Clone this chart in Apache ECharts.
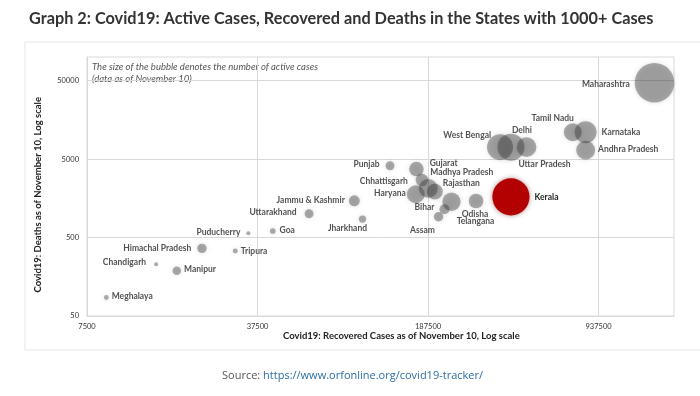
<!DOCTYPE html>
<html>
<head>
<meta charset="utf-8">
<script src="https://cdn.jsdelivr.net/npm/echarts@6/dist/echarts.min.js"></script>
<style>
  html, body { margin: 0; padding: 0; background: #fff; }
  #main { width: 700px; height: 396px; }
</style>
</head>
<body>
<div id="main"></div>
<script>
const states = ['Maharashtra', 'Karnataka', 'Andhra Pradesh', 'Tamil Nadu', 'Kerala', 'West Bengal', 'Delhi',
  'Uttar Pradesh', 'Odisha', 'Telangana', 'Rajasthan', 'Chhattisgarh', 'Haryana', 'Gujarat', 'Madhya Pradesh',
  'Bihar', 'Assam', 'Punjab', 'Jharkhand', 'Jammu & Kashmir', 'Uttarakhand', 'Goa', 'Puducherry', 'Tripura',
  'Himachal Pradesh', 'Manipur', 'Chandigarh', 'Meghalaya']
const recovered = [1590000, 830000, 830000, 735000, 410000, 370000, 410000,
  475000, 295000, 234000, 200000, 188000, 167000, 168000, 177000,
  219000, 207000, 131000, 101000, 93500, 61000, 43300, 34400, 30400,
  22200, 17500, 14400, 9000]
const deaths = [47000, 11000, 6500, 11000, 1650, 7100, 7100,
  7100, 1460, 1430, 1920, 2120, 1780, 3730, 2700,
  1150, 920, 4110, 860, 1470, 1005, 605, 566, 337,
  364, 189, 228, 86]
const active = [88000, 27000, 20000, 18000, 78000, 38000, 41000,
  22000, 12000, 19000, 14000, 20000, 18000, 12000, 9000,
  5600, 5000, 4500, 3000, 6800, 4500, 1800, 900, 1400,
  5000, 4100, 900, 1300]
const xTicks = [7500, 37500, 187500, 937500]
const yTicks = [50, 500, 5000, 50000]

// where each state's name sits next to its bubble: [position, dx, dy]
const labelPlace = {
  'Maharashtra': ['left', 0, 2],
  'Karnataka': ['right', 0, 0],
  'Andhra Pradesh': ['right', -2, -1],
  'Tamil Nadu': ['top', -20, 4],
  'Kerala': ['right', 0, 0],
  'West Bengal': ['left', 9, -12],
  'Delhi': ['top', 11, 6],
  'Uttar Pradesh': ['bottom', 18, -2],
  'Odisha': ['bottom', -1, -4],
  'Telangana': ['bottom', 24, 1],
  'Rajasthan': ['right', -5, -8],
  'Chhattisgarh': ['left', -6, -7],
  'Haryana': ['left', 4, -1],
  'Gujarat': ['right', 1, -6],
  'Madhya Pradesh': ['right', -3, -8],
  'Bihar': ['left', 0, -2],
  'Assam': ['bottom', -16, -1],
  'Punjab': ['left', -1, -1],
  'Jharkhand': ['bottom', -15, -4],
  'Jammu & Kashmir': ['left', 1, -1],
  'Uttarakhand': ['left', -3, -1],
  'Goa': ['right', -1, -1],
  'Puducherry': ['left', -1, -1],
  'Tripura': ['right', -2, 0],
  'Himachal Pradesh': ['left', -1, 0],
  'Manipur': ['right', -2, -1],
  'Chandigarh': ['left', -3, -2],
  'Meghalaya': ['right', -2, -1]
}

const points = states.map((name, i) => {
  const p = labelPlace[name]
  const item = {
    name: name,
    value: [recovered[i], deaths[i], active[i]],
    label: { position: p[0], offset: [p[1], p[2]] }
  }
  if (name === 'Kerala') {
    item.itemStyle = { color: '#b30000', opacity: 1, shadowColor: 'rgba(90,0,0,0.45)', shadowBlur: 5 }
  }
  return item
})

const chart = echarts.init(document.getElementById('main'))
const option = {
  animation: false,
  textStyle: { fontFamily: 'Lato' },
  title: {
    text: 'Graph 2: Covid19: Active Cases, Recovered and Deaths in the States with 1000+ Cases',
    left: 24,
    top: 6,
    textStyle: { fontFamily: 'Lato', fontSize: 16.3, fontWeight: 'bold', color: '#333' }
  },
  grid: {
    left: 87, right: 26, top: 57, bottom: 80,
    show: true, borderColor: '#d9d9d9', borderWidth: 1
  },
  xAxis: {
    type: 'log',
    logBase: 5,
    min: 7500,
    max: 1911000,
    axisLine: { show: true, lineStyle: { color: '#d9d9d9' } },
    axisTick: { show: false, customValues: xTicks },
    splitLine: { show: true, lineStyle: { color: '#d9d9d9' } },
    axisLabel: {
      customValues: xTicks,
      formatter: v => String(Math.round(v)),
      fontSize: 7.5, color: '#333', margin: 7
    }
  },
  yAxis: {
    type: 'log',
    logBase: 10,
    min: 50,
    max: 100000,
    axisLine: { show: true, lineStyle: { color: '#d9d9d9' } },
    axisTick: { show: false, customValues: yTicks },
    splitLine: { show: true, lineStyle: { color: '#d9d9d9' } },
    axisLabel: {
      customValues: yTicks,
      formatter: v => String(Math.round(v)),
      fontSize: 7.5, color: '#333', margin: 8
    }
  },
  series: [{
    type: 'scatter',
    data: points,
    symbolSize: v => 40 * Math.sqrt(v[2] / 90000),
    itemStyle: {
      color: 'rgba(60,60,60,0.52)',
      shadowColor: 'rgba(0,0,0,0.3)',
      shadowBlur: 5
    },
    label: {
      show: true,
      formatter: '{b}',
      fontFamily: 'Lato',
      fontSize: 8.5,
      fontWeight: 'bold',
      color: '#262626',
      distance: 5
    },
    emphasis: { disabled: true }
  }],
  graphic: [
    {
      type: 'rect', silent: true, z: -1,
      shape: { x: 25, y: 42, width: 700, height: 308 },
      style: { fill: 'none', stroke: '#e6e6e6', lineWidth: 1 }
    },
    {
      type: 'text', left: 92, top: 61,
      style: {
        text: 'The size of the bubble denotes the number of active cases\n(data as of November 10)',
        font: 'italic 9.5px Lato', fill: '#555', lineHeight: 12
      }
    },
    {
      type: 'text', left: 33, top: 97, rotation: Math.PI / 2,
      style: {
        text: 'Covid19: Deaths as of November 10, Log scale',
        font: 'bold 9.5px Lato', fill: '#222'
      }
    },
    {
      type: 'text', left: 283, top: 331,
      style: {
        text: 'Covid19: Recovered Cases as of November 10, Log scale',
        font: 'bold 9.5px Lato', fill: '#222'
      }
    },
    {
      type: 'text', left: 222, top: 370,
      style: {
        text: '{s|Source: }{u|https://www.orfonline.org/covid19-tracker/}',
        rich: {
          s: { fontFamily: 'Open Sans', fontSize: 11, fill: '#555' },
          u: { fontFamily: 'Open Sans', fontSize: 11, fill: '#2e6da4' }
        }
      }
    }
  ]
}
option && chart.setOption(option)
</script>
</body>
</html>
